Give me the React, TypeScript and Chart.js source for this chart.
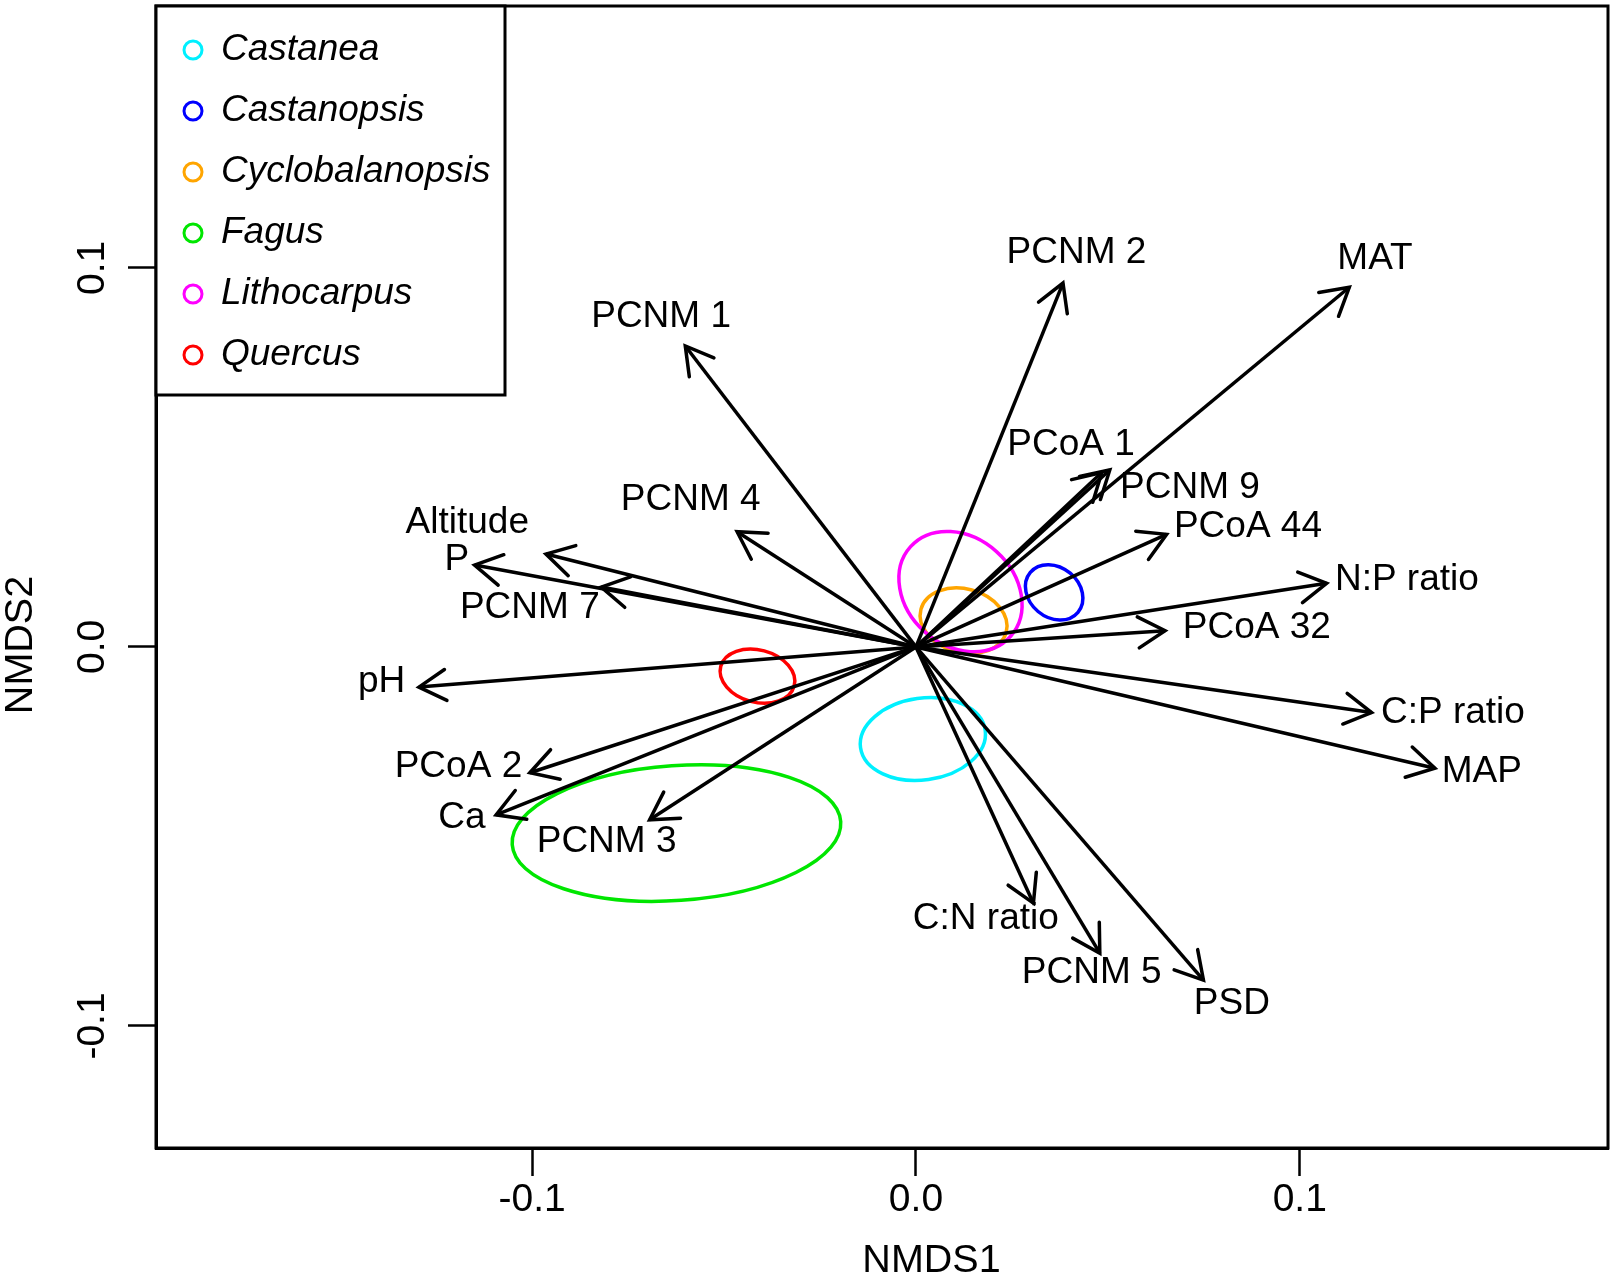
import React, { useEffect, useRef } from 'react';
import { Chart, registerables } from 'chart.js';

Chart.register(...registerables);

// ---- axis ----
const X_MIN = -0.198;
const X_MAX = 0.1803;
const Y_MIN = -0.1322;
const Y_MAX = 0.1691;
const xTicks = [-0.1, 0.0, 0.1];
const yTicks = [-0.1, 0.0, 0.1];
const xTitle = 'NMDS1';
const yTitle = 'NMDS2';

// ---- environmental fit arrows ----
const arrowNames = ['PCNM 1', 'PCNM 2', 'MAT', 'PCoA 1', 'PCNM 9', 'PCoA 44', 'N:P ratio', 'PCoA 32', 'C:P ratio', 'MAP', 'PSD', 'PCNM 5', 'C:N ratio', 'PCNM 3', 'Ca', 'PCoA 2', 'pH', 'P', 'Altitude', 'PCNM 7', 'PCNM 4'];
const arrowX = [-0.0601, 0.0383, 0.1129, 0.0484, 0.0505, 0.0653, 0.107, 0.0649, 0.1187, 0.1352, 0.0749, 0.0479, 0.0306, -0.0694, -0.1094, -0.1006, -0.1295, -0.115, -0.0964, -0.082, -0.0466];
const arrowY = [0.0794, 0.096, 0.0949, 0.046, 0.0467, 0.0297, 0.0168, 0.0043, -0.0173, -0.032, -0.0879, -0.0808, -0.0676, -0.0456, -0.0443, -0.0332, -0.0106, 0.0216, 0.0245, 0.0158, 0.0304];
const labelX = [-0.0664, 0.0418, 0.1196, 0.0404, 0.0714, 0.0865, 0.1279, 0.0888, 0.1399, 0.1474, 0.0823, 0.0458, 0.0182, -0.0806, -0.1183, -0.1192, -0.1392, -0.1196, -0.1169, -0.1006, -0.0587];
const labelY = [0.0872, 0.104, 0.1023, 0.0533, 0.042, 0.0317, 0.0177, 0.005, -0.0175, -0.0329, -0.0941, -0.0861, -0.0716, -0.0514, -0.0451, -0.0316, -0.0093, 0.023, 0.0327, 0.0103, 0.0388];

// ---- group ellipses ----
const groupNames = ['Castanea', 'Castanopsis', 'Cyclobalanopsis', 'Fagus', 'Lithocarpus', 'Quercus'];
const groupColors = ['#00F0FF', '#0000FF', '#FFA500', '#00E600', '#FF00FF', '#FF0000'];
const ellipseCX = [0.0018, 0.036, 0.0124, -0.0624, 0.0116, -0.0413];
const ellipseCY = [-0.0243, 0.0144, 0.0069, -0.0491, 0.0146, -0.0077];
const ellipseA = [0.0164, 0.0081, 0.0115, 0.0429, 0.0175, 0.0099];
const ellipseB = [0.0108, 0.0066, 0.0084, 0.0178, 0.0142, 0.0069];
const ellipseAngle = [-8, 40, 15, -4, 42, 15];

const FONT = '"Liberation Sans", Arial, Helvetica, sans-serif';

const ordPlugin = {
  id: 'ordination',
  beforeDatasetsDraw(chart: any) {
    const { ctx } = chart;
    const xs = chart.scales.x;
    const ys = chart.scales.y;
    ctx.save();
    for (let i = 0; i < groupNames.length; i++) {
      const cx = xs.getPixelForValue(ellipseCX[i]);
      const cy = ys.getPixelForValue(ellipseCY[i]);
      const rx = Math.abs(xs.getPixelForValue(ellipseCX[i] + ellipseA[i]) - cx);
      const ry = Math.abs(ys.getPixelForValue(ellipseCY[i] + ellipseB[i]) - cy);
      ctx.beginPath();
      ctx.ellipse(cx, cy, rx, ry, (ellipseAngle[i] * Math.PI) / 180, 0, Math.PI * 2);
      ctx.strokeStyle = groupColors[i];
      ctx.lineWidth = 3.5;
      ctx.stroke();
    }
    ctx.restore();
  },
  afterDatasetsDraw(chart: any) {
    const { ctx } = chart;
    const xs = chart.scales.x;
    const ys = chart.scales.y;
    const ox = xs.getPixelForValue(0);
    const oy = ys.getPixelForValue(0);
    ctx.save();
    ctx.strokeStyle = '#000';
    ctx.lineWidth = 3.5;
    ctx.lineCap = 'round';
    const L = 31;
    const half = Math.PI / 6;
    for (let i = 0; i < arrowNames.length; i++) {
      const tx = xs.getPixelForValue(arrowX[i]);
      const ty = ys.getPixelForValue(arrowY[i]);
      const ang = Math.atan2(ty - oy, tx - ox);
      ctx.beginPath();
      ctx.moveTo(tx - L * Math.cos(ang - half), ty - L * Math.sin(ang - half));
      ctx.lineTo(tx, ty);
      ctx.lineTo(tx - L * Math.cos(ang + half), ty - L * Math.sin(ang + half));
      ctx.stroke();
    }
    ctx.fillStyle = '#000';
    ctx.font = `37px ${FONT}`;
    ctx.textAlign = 'center';
    ctx.textBaseline = 'middle';
    for (let i = 0; i < arrowNames.length; i++) {
      ctx.fillText(arrowNames[i], xs.getPixelForValue(labelX[i]), ys.getPixelForValue(labelY[i]));
    }
    ctx.restore();
  },
  afterDraw(chart: any) {
    const { ctx, chartArea } = chart;
    ctx.save();
    // plot box
    ctx.strokeStyle = '#000';
    ctx.lineWidth = 3;
    ctx.strokeRect(chartArea.left, chartArea.top, chartArea.right - chartArea.left, chartArea.bottom - chartArea.top);

    // axis titles
    ctx.fillStyle = '#000';
    ctx.font = `39.5px ${FONT}`;
    ctx.textAlign = 'center';
    ctx.textBaseline = 'middle';
    ctx.fillText(xTitle, 931.5, 1261);
    ctx.save();
    ctx.translate(21, 645);
    ctx.rotate(-Math.PI / 2);
    ctx.fillText(yTitle, 0, 0);
    ctx.restore();

    // legend
    const lx = chartArea.left;
    const ly = chartArea.top;
    const lw = 505 - lx;
    const lh = 395 - ly;
    ctx.fillStyle = '#fff';
    ctx.fillRect(lx, ly, lw, lh);
    ctx.strokeStyle = '#000';
    ctx.lineWidth = 3;
    ctx.strokeRect(lx, ly, lw, lh);
    ctx.font = `italic 37px ${FONT}`;
    ctx.textAlign = 'left';
    ctx.textBaseline = 'middle';
    for (let i = 0; i < groupNames.length; i++) {
      const yy = 50 + i * 61;
      ctx.beginPath();
      ctx.arc(193, yy, 9, 0, Math.PI * 2);
      ctx.strokeStyle = groupColors[i];
      ctx.lineWidth = 3;
      ctx.stroke();
      ctx.fillStyle = '#000';
      ctx.fillText(groupNames[i], 221, yy);
    }
    ctx.restore();
  },
};

export default function App() {
  const ref = useRef<HTMLCanvasElement>(null);

  useEffect(() => {
    const canvas = ref.current;
    if (!canvas) return;
    const datasets = arrowNames.map((name, i) => ({
      label: name,
      data: [
        { x: 0, y: 0 },
        { x: arrowX[i], y: arrowY[i] },
      ],
      showLine: true,
      borderColor: '#000',
      borderWidth: 3.5,
      pointRadius: 0,
      pointHoverRadius: 0,
      fill: false,
      tension: 0,
    }));
    const tickFont = { family: FONT, size: 39 };
    const chart = new Chart(canvas, {
      type: 'scatter',
      data: { datasets },
      options: {
        animation: false,
        responsive: false,
        devicePixelRatio: 1,
        events: [],
        layout: { padding: { left: 0, top: 6, right: 6, bottom: 0 } },
        plugins: { legend: { display: false }, tooltip: { enabled: false } },
        scales: {
          x: {
            type: 'linear',
            min: X_MIN,
            max: X_MAX,
            afterBuildTicks: (s: any) => {
              s.ticks = xTicks.map((v) => ({ value: v }));
            },
            afterFit: (s: any) => {
              s.height = 134;
              s.paddingLeft = 0;
              s.paddingRight = 0;
              s.paddingTop = 0;
              s.paddingBottom = 0;
            },
            ticks: {
              font: tickFont,
              color: '#000',
              padding: 1,
              maxRotation: 0,
              minRotation: 0,
              callback: (v: any) => Number(v).toFixed(1),
            },
            grid: {
              drawOnChartArea: false,
              drawTicks: true,
              tickLength: 28,
              tickWidth: 2.5,
              tickColor: '#000',
              color: '#000',
            },
            border: { display: true, color: '#000', width: 3 },
          },
          y: {
            type: 'linear',
            min: Y_MIN,
            max: Y_MAX,
            afterBuildTicks: (s: any) => {
              s.ticks = yTicks.map((v) => ({ value: v }));
            },
            afterFit: (s: any) => {
              s.width = 156;
              s.paddingLeft = 0;
              s.paddingRight = 0;
              s.paddingTop = 0;
              s.paddingBottom = 0;
            },
            ticks: {
              font: tickFont,
              color: '#000',
              padding: 1.5,
              minRotation: 90,
              maxRotation: 90,
              crossAlign: 'center',
              callback: (v: any) => Number(v).toFixed(1),
            },
            grid: {
              drawOnChartArea: false,
              drawTicks: true,
              tickLength: 28,
              tickWidth: 2.5,
              tickColor: '#000',
              color: '#000',
            },
            border: { display: true, color: '#000', width: 3 },
          },
        },
      } as any,
      plugins: [ordPlugin],
    });
    return () => chart.destroy();
  }, []);

  return (
    <div style={{ position: 'absolute', left: 0, top: 0, width: 1614, height: 1282, background: '#fff' }}>
      <canvas ref={ref} width={1614} height={1282} style={{ display: 'block', width: 1614, height: 1282 }} />
    </div>
  );
}
